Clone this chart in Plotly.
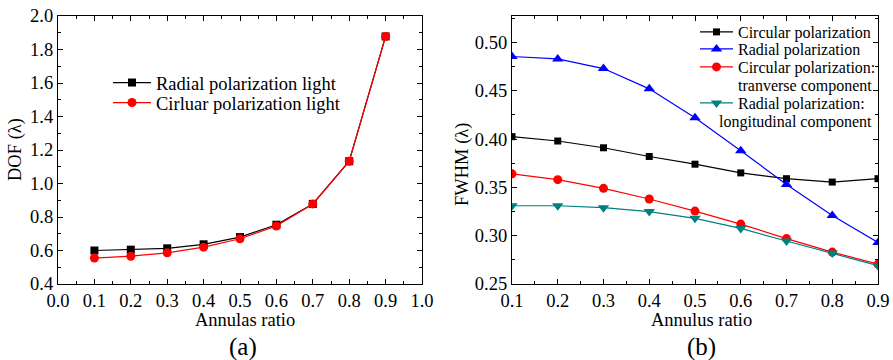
import plotly.graph_objects as go

# ---- data (a) ----
ratio_a = [0.1, 0.2, 0.3, 0.4, 0.5, 0.6, 0.7, 0.8, 0.9]
dof_radial = [0.600, 0.605, 0.613, 0.637, 0.680, 0.754, 0.878, 1.133, 1.878]
dof_circular = [0.555, 0.566, 0.586, 0.620, 0.670, 0.746, 0.878, 1.133, 1.878]

# ---- data (b) ----
ratio_b = [0.1, 0.2, 0.3, 0.4, 0.5, 0.6, 0.7, 0.8, 0.9]
fwhm_circ = [0.4025, 0.398, 0.391, 0.382, 0.374, 0.365, 0.359, 0.3555, 0.359]
fwhm_rad = [0.4855, 0.483, 0.473, 0.452, 0.422, 0.388, 0.353, 0.321, 0.293]
fwhm_circ_t = [0.364, 0.358, 0.349, 0.338, 0.3255, 0.312, 0.297, 0.283, 0.2705]
fwhm_rad_l = [0.331, 0.331, 0.329, 0.325, 0.318, 0.3075, 0.2945, 0.282, 0.269]

FONT = "Liberation Serif"
W, H = 893, 360

fig = go.Figure()

fig.add_trace(go.Scatter(x=ratio_a, y=dof_radial, mode="lines+markers",
    name="Radial polarization light",
    line=dict(color="black", width=1.2),
    marker=dict(symbol="square", size=8, color="black"),
    xaxis="x", yaxis="y", legend="legend"))
fig.add_trace(go.Scatter(x=ratio_a, y=dof_circular, mode="lines+markers",
    name="Cirluar polarization light",
    line=dict(color="red", width=1.2),
    marker=dict(symbol="circle", size=9, color="red"),
    xaxis="x", yaxis="y", legend="legend2"))

fig.add_trace(go.Scatter(x=ratio_b, y=fwhm_circ, mode="lines+markers",
    name="Circular polarization",
    line=dict(color="black", width=1.2),
    marker=dict(symbol="square", size=7, color="black"),
    xaxis="x2", yaxis="y2", legend="legend3"))
fig.add_trace(go.Scatter(x=ratio_b, y=fwhm_rad, mode="lines+markers",
    name="Radial polarization",
    line=dict(color="blue", width=1.2),
    marker=dict(symbol="triangle-up", size=10, color="blue"),
    xaxis="x2", yaxis="y2", legend="legend4"))
fig.add_trace(go.Scatter(x=ratio_b, y=fwhm_circ_t, mode="lines+markers",
    name="Circular polarization:",
    line=dict(color="red", width=1.2),
    marker=dict(symbol="circle", size=9, color="red"),
    xaxis="x2", yaxis="y2", legend="legend5"))
fig.add_trace(go.Scatter(x=ratio_b, y=fwhm_rad_l, mode="lines+markers",
    name="Radial polarization:",
    line=dict(color="#008080", width=1.2),
    marker=dict(symbol="triangle-down", size=10, color="#008080"),
    xaxis="x2", yaxis="y2", legend="legend6"))

axis_common = dict(showline=True, linecolor="black", linewidth=1.3, mirror="allticks",
                   ticks="inside", ticklen=5, tickwidth=1.2, tickcolor="black",
                   showgrid=False, zeroline=False, automargin=False,
                   tickfont=dict(family=FONT, size=18.5, color="black"))
minor = dict(ticks="inside", ticklen=3, tickwidth=1.2, tickcolor="black", showgrid=False)

y_top = 1 - 16 / H
y_bot = 1 - 284 / H


def leg(xpx, ypx, iw, size):
    return dict(x=xpx / W, y=1 - ypx / H, xanchor="left", yanchor="middle",
                bgcolor="rgba(0,0,0,0)", borderwidth=0, itemwidth=iw,
                font=dict(family=FONT, size=size, color="black"))


fig.update_layout(
    width=W, height=H, margin=dict(l=0, r=0, t=0, b=0, autoexpand=False),
    paper_bgcolor="white", plot_bgcolor="white",
    font=dict(family=FONT, color="black"),
    xaxis=dict(domain=[58 / W, 422 / W], range=[0, 1], dtick=0.1, tick0=0, tickformat=".1f",
               minor=dict(dtick=0.05, **minor), anchor="y", **axis_common),
    yaxis=dict(domain=[y_bot, y_top], range=[0.4, 2.0], dtick=0.2, tick0=0, tickformat=".1f",
               minor=dict(dtick=0.1, **minor), anchor="x", **axis_common),
    xaxis2=dict(domain=[512 / W, 878 / W], range=[0.1, 0.9], dtick=0.1, tick0=0, tickformat=".1f",
                minor=dict(dtick=0.05, **minor), anchor="y2", **axis_common),
    yaxis2=dict(domain=[y_bot, y_top], range=[0.25, 0.5274], dtick=0.05, tick0=0, tickformat=".2f",
                minor=dict(dtick=0.025, **minor), anchor="x2", **axis_common),
    legend=leg(108, 83, 38, 18.5),
    legend2=leg(108, 103, 38, 18.5),
    legend3=leg(695, 32, 33, 16),
    legend4=leg(695, 49, 33, 16),
    legend5=leg(695, 67, 33, 16),
    legend6=leg(695, 103, 33, 16),
    showlegend=True,
)

ann = dict(xref="paper", yref="paper", showarrow=False, font=dict(family=FONT, size=18.5, color="black"))
fig.add_annotation(text="Annulas ratio", x=245 / W, y=1 - 320 / H, xanchor="center", yanchor="middle", **ann)
fig.add_annotation(text="Annulus ratio", x=701 / W, y=1 - 320 / H, xanchor="center", yanchor="middle", **ann)
fig.add_annotation(text="DOF (λ)", x=15 / W, y=1 - 150 / H, textangle=-90, xanchor="center", yanchor="middle", **ann)
fig.add_annotation(text="FWHM (λ)", x=463 / W, y=1 - 164 / H, textangle=-90, xanchor="center", yanchor="middle", **ann)
fig.add_annotation(text="(a)", x=243 / W, y=1 - 347 / H, xanchor="center", yanchor="middle",
                   xref="paper", yref="paper", showarrow=False, font=dict(family=FONT, size=25, color="black"))
fig.add_annotation(text="(b)", x=701 / W, y=1 - 347 / H, xanchor="center", yanchor="middle",
                   xref="paper", yref="paper", showarrow=False, font=dict(family=FONT, size=25, color="black"))

leg2 = dict(xref="paper", yref="paper", showarrow=False, xanchor="right", yanchor="middle",
            font=dict(family=FONT, size=16, color="black"))
fig.add_annotation(text="tranverse component", x=874 / W, y=1 - 86 / H, **leg2)
fig.add_annotation(text="longitudinal component", x=874 / W, y=1 - 122 / H, **leg2)

fig.write_html("out.html")
